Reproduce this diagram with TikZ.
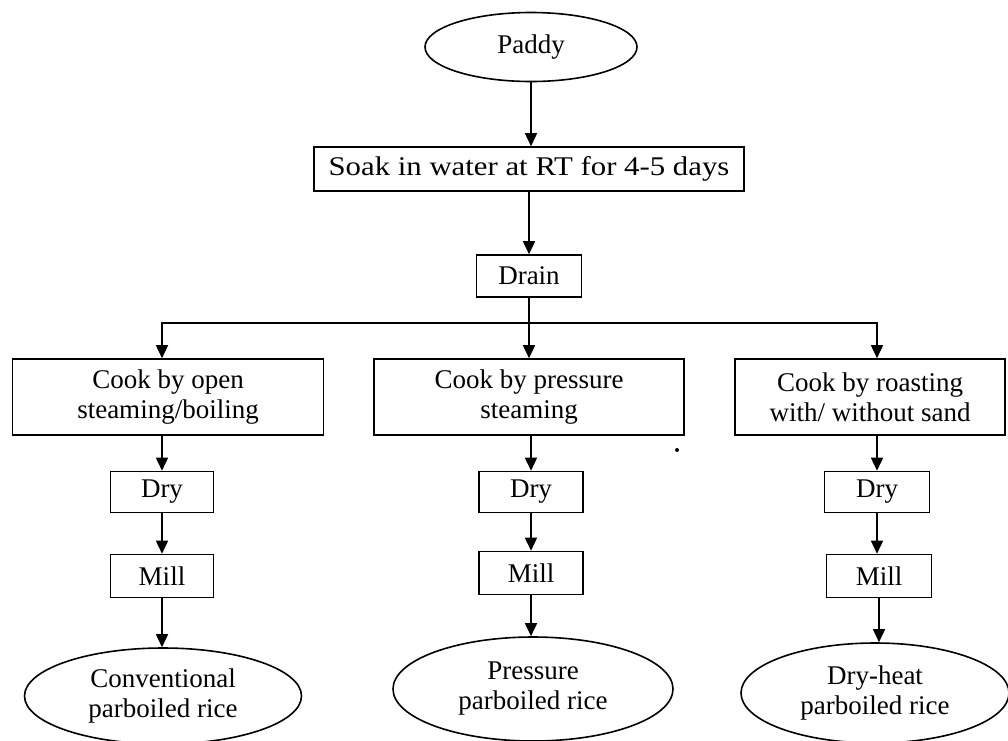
\documentclass[tikz,border=0pt]{standalone}
\usepackage{fontspec}
\usepackage{graphicx}
\setmainfont{Liberation Serif}
\usetikzlibrary{shapes.geometric,arrows.meta}
\begin{document}
\begin{tikzpicture}[x=1pt,y=-1pt,
  txt/.style={font=\fontsize{27}{30}\selectfont},
  box/.style={txt,draw,line width=1.6pt,inner sep=0pt,align=center},
  oval/.style={txt,ellipse,draw,line width=1.6pt,inner sep=0pt,align=center},
  ln/.style={line width=1.6pt},
  arr/.style={line width=1.6pt,-{Triangle[length=13pt,width=12pt]}}]
\useasboundingbox (0,0) rectangle (1008,740);

\node[oval,minimum width=212,minimum height=69] (paddy) at (531,47) {Paddy};
\node[box,minimum width=430,minimum height=44] (soak) at (529,169) {\scalebox{1.14}[1]{Soak in water at RT for 4-5 days}};
\node[box,minimum width=105,minimum height=42] (drain) at (529,276) {Drain};

\node[box,minimum width=311,minimum height=76] (cook1) at (168,397) {Cook by open\\steaming/boiling};
\node[box,minimum width=310,minimum height=76] (cook2) at (529,397) {Cook by pressure\\steaming};
\node[box,minimum width=270,minimum height=76] (cook3) at (870,397) {Cook by roasting\\with/ without sand};

\node[box,minimum width=103,minimum height=41] (dry1) at (162,492) {Dry};
\node[box,minimum width=104,minimum height=41] (dry2) at (531,492) {Dry};
\node[box,minimum width=105,minimum height=41] (dry3) at (877,492) {Dry};

\node[box,minimum width=103,minimum height=43] (mill1) at (162,576) {Mill};
\node[box,minimum width=104,minimum height=43] (mill2) at (531,573) {Mill};
\node[box,minimum width=105,minimum height=43] (mill3) at (879,576) {Mill};

\node[oval,minimum width=277,minimum height=96] (rice1) at (163,696) {Conventional\\parboiled rice};
\node[oval,minimum width=280,minimum height=104] (rice2) at (533,689) {Pressure\\parboiled rice};
\node[oval,minimum width=268,minimum height=100] (rice3) at (875,693) {Dry-heat\\parboiled rice};

\coordinate (split) at (529,323);

\draw[arr] (paddy.south) -- (paddy.south |- soak.north);
\draw[arr] (soak.south) -- (soak.south |- drain.north);
\draw[ln] (drain.south) -- (split);
\draw[arr] (split) -- (split |- cook2.north);
\draw[arr] (split) -| (dry1 |- cook1.north);
\draw[arr] (split) -| (dry3 |- cook3.north);

\draw[arr] (dry1 |- cook1.south) -- (dry1.north);
\draw[arr] (dry2 |- cook2.south) -- (dry2.north);
\draw[arr] (dry3 |- cook3.south) -- (dry3.north);

\draw[arr] (dry1.south) -- (mill1.north);
\draw[arr] (dry2.south) -- (mill2.north);
\draw[arr] (dry3.south) -- (dry3.south |- mill3.north);

\draw[arr] (mill1.south) -- (mill1.south |- rice1.north);
\draw[arr] (mill2.south) -- (mill2.south |- rice2.north);
\draw[arr] (mill3.south) -- (mill3.south |- rice3.north);

\fill (677,450) circle (2);
\end{tikzpicture}
\end{document}
